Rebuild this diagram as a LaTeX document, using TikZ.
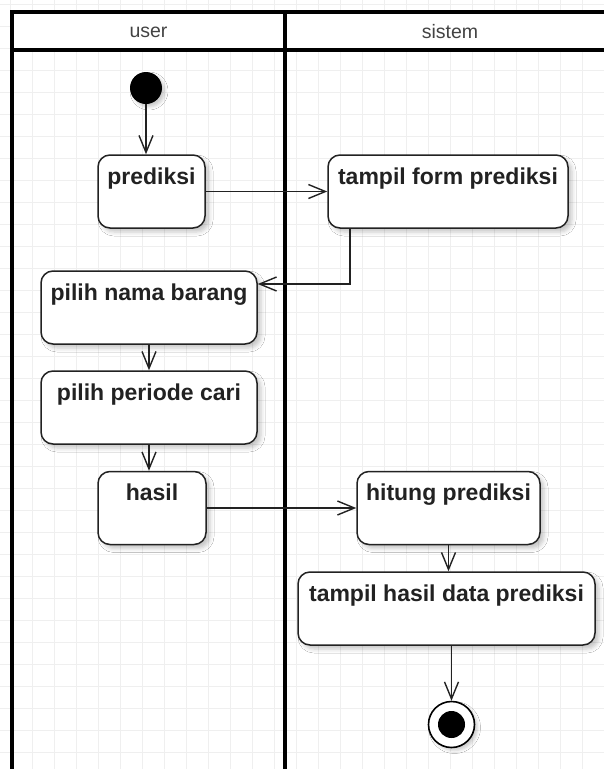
\documentclass[tikz,border=0pt]{standalone}
\usepackage{fontspec}
\setmainfont{Liberation Sans}
\usetikzlibrary{arrows.meta,shadows.blur,calc}

\definecolor{gridgray}{HTML}{EFEFEF}
\definecolor{ink}{HTML}{222222}

\tikzset{
  gridline/.style={draw=gridgray, line width=0.9pt},
  poolline/.style={draw=black, line width=3.4pt},
  lanehead/.style={font=\fontsize{19.5}{23}\selectfont, text=ink!85, inner sep=0pt},
  actbox/.style={draw=ink, line width=1.5pt, fill=white, rounded corners=12pt,
    inner sep=0pt, minimum width=#1, minimum height=73pt,
    blur shadow={shadow xshift=4pt, shadow yshift=-4pt, shadow opacity=22,
      shadow blur radius=4pt}},
  acttext/.style={font=\bfseries\fontsize{23}{27}\selectfont, text=ink, inner sep=0pt, anchor=base},
  flow/.style={draw=ink, line width=1.4pt,
    -{Straight Barb[length=17pt, width=14pt, line width=1.4pt]}},
  startdot/.style={circle, fill=black, inner sep=0pt, minimum size=32pt,
    blur shadow={shadow xshift=3pt, shadow yshift=-3pt, shadow opacity=20,
      shadow blur radius=3pt}},
  endring/.style={circle, draw=black, line width=1.6pt, fill=white, inner sep=0pt,
    minimum size=46pt,
    blur shadow={shadow xshift=3pt, shadow yshift=-3pt, shadow opacity=20,
      shadow blur radius=3pt}},
  enddot/.style={circle, fill=black, inner sep=0pt, minimum size=27pt},
}

\begin{document}
\begin{tikzpicture}[x=1pt, y=-1pt]
  \useasboundingbox (0,0) rectangle (604,769);
  \fill[white] (0,0) rectangle (604,769);

  % background grid
  \begin{scope}
    \clip (0,0) rectangle (604,769);
    \foreach \gx in {10,32,...,604} \draw[gridline] (\gx,0) -- (\gx,769);
    \foreach \gy in {4,26,...,769} \draw[gridline] (0,\gy) -- (604,\gy);
  \end{scope}

  % swimlane pool
  \fill[white] (12,12) rectangle (620,50);
  \draw[poolline] (620,12) -- (12,12) -- (12,790);
  \draw[poolline] (12,50) -- (620,50);
  \draw[poolline] (285,12) -- (285,790);
  \node[lanehead] (laneuser) at (148.5,32) {user};
  \node[lanehead] (lanesys) at (450,32) {sistem};

  % activities
  \node[startdot] (start) at (146,88) {};

  \node[actbox=107pt] (pred) at (151.5,191.5) {};
  \node[acttext] (predt) at ($(pred.north)+(0,30)$) {prediksi};

  \node[actbox=240pt] (tform) at (448,191.5) {};
  \node[acttext] (tformt) at ($(tform.north)+(0,30)$) {tampil form prediksi};

  \node[actbox=216pt] (nama) at (149,307.5) {};
  \node[acttext] (namat) at ($(nama.north)+(0,30)$) {pilih nama barang};

  \node[actbox=216pt] (periode) at (149,407.5) {};
  \node[acttext] (periodet) at ($(periode.north)+(0,30)$) {pilih periode cari};

  \node[actbox=108pt] (hasil) at (152,508) {};
  \node[acttext] (hasilt) at ($(hasil.north)+(0,30)$) {hasil};

  \node[actbox=183pt] (hitung) at (448.5,508) {};
  \node[acttext] (hitungt) at ($(hitung.north)+(0,30)$) {hitung prediksi};

  \node[actbox=297pt] (thasil) at (446.5,608.5) {};
  \node[acttext] (thasilt) at ($(thasil.north)+(0,30)$) {tampil hasil data prediksi};

  \node[endring] (finish) at (451.5,724.5) {};
  \node[enddot] (finishdot) at (finish.center) {};

  % control flow
  \coordinate (back) at (350,284);
  \draw[flow] (start.south) -- (start.south |- pred.north);
  \draw[flow] (pred.east) -- (tform.west);
  \draw[flow] (tform.south -| back) |- (nama.east |- back);
  \draw[flow] (nama.south) -- (periode.north);
  \draw[flow] (periode.south) -- (periode.south |- hasil.north);
  \draw[flow] (hasil.east) -- (hitung.west);
  \draw[flow] (hitung.south) -- (hitung.south |- thasil.north);
  \draw[flow] (thasil.south -| finish.north) -- (finish.north);
\end{tikzpicture}
\end{document}
